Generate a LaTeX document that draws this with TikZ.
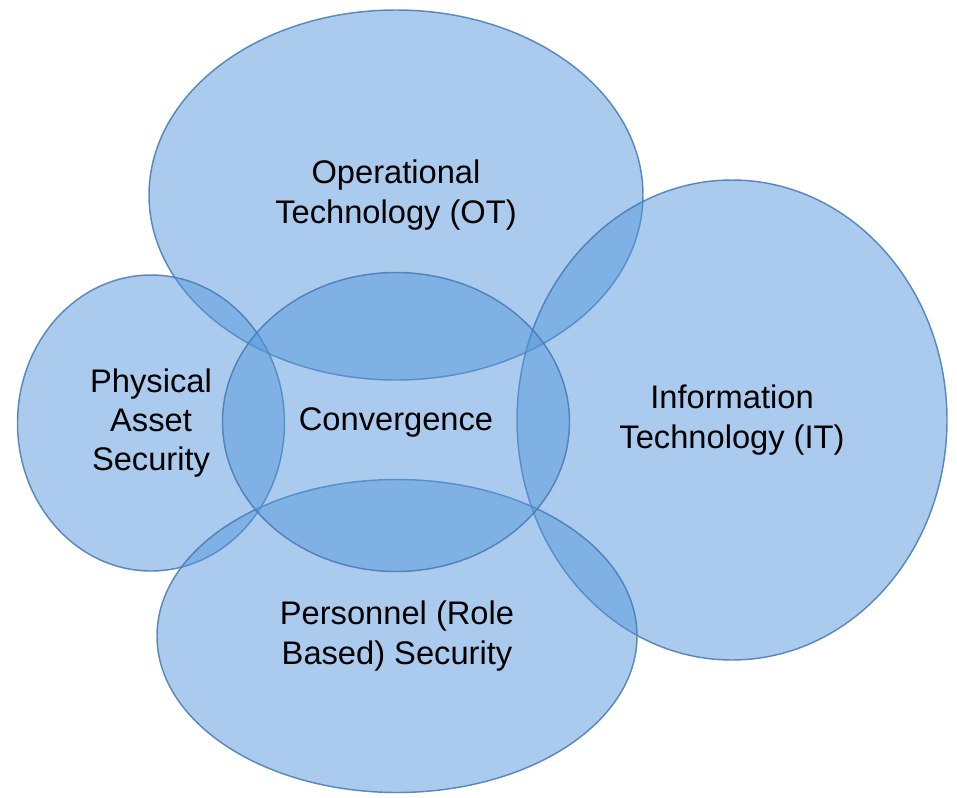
\documentclass[tikz,border=0pt]{standalone}
\usepackage{fontspec}
\setmainfont{Liberation Sans}
\usetikzlibrary{shapes.geometric}

\definecolor{bubblefill}{RGB}{85,151,221}
\definecolor{bubbleline}{RGB}{70,122,178}

\tikzset{
  bubble/.style 2 args={ellipse, inner sep=0pt, minimum width=#1, minimum height=#2,
    fill=bubblefill, fill opacity=0.5, draw=bubbleline, draw opacity=0.85,
    line width=1.1pt, text opacity=1, align=center,
    font=\fontsize{24.5}{29.5}\selectfont}
}

\begin{document}
\begin{tikzpicture}[x=0.75pt, y=-0.75pt]
  \useasboundingbox (0,0) rectangle (957,797);
  \node[bubble={370.5pt}{277.5pt}] (ot) at (396,195) {Operational\\Technology (OT)};
  \node[bubble={322.5pt}{360pt}] (it) at (732,420) {Information\\Technology (IT)};
  \node[bubble={200.25pt}{222pt}] (phys) at (151,423) {Physical\\Asset\\Security};
  \node[bubble={360pt}{234.75pt}] (pers) at (397,636) {Personnel (Role\\Based) Security};
  \node[bubble={260.25pt}{224.25pt}] (conv) at (396,422) {Convergence};
\end{tikzpicture}
\end{document}
